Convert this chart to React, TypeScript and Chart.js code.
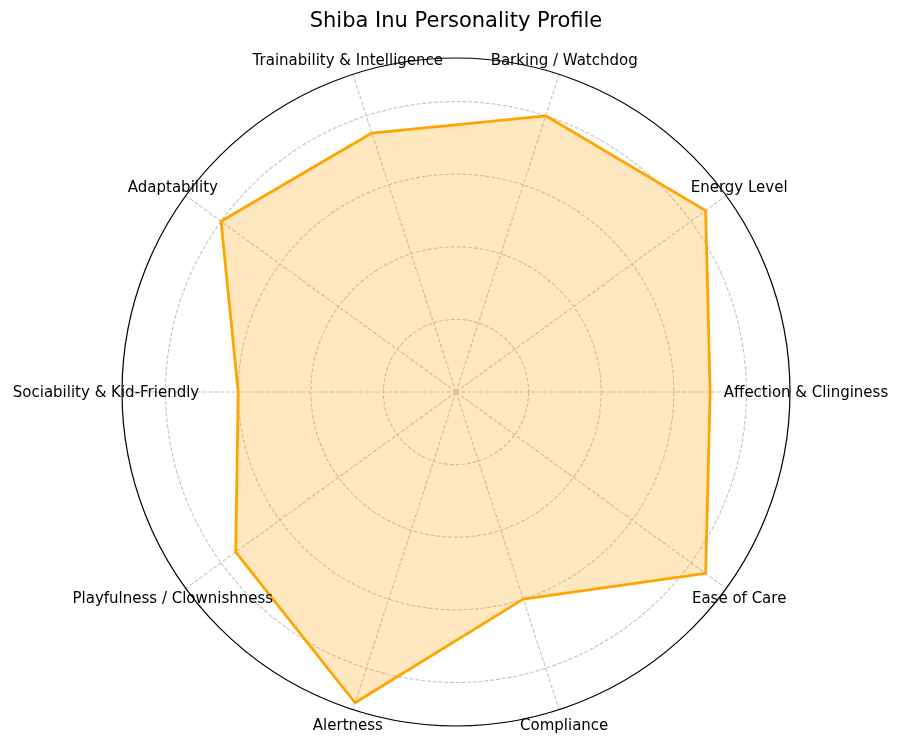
import React, { useEffect, useRef } from 'react';
import { Chart, registerables } from 'chart.js';

Chart.register(...registerables);

const TITLE = 'Shiba Inu Personality Profile';
// Categories in counter-clockwise order starting at 3 o'clock
const categories = [
  'Affection & Clinginess',
  'Energy Level',
  'Barking / Watchdog',
  'Trainability & Intelligence',
  'Adaptability',
  'Sociability & Kid-Friendly',
  'Playfulness / Clownishness',
  'Alertness',
  'Compliance',
  'Ease of Care',
];
const scores = [3.5, 4.25, 4.0, 3.75, 4.0, 3.0, 3.75, 4.5, 3.0, 4.25];
const rMin = 0;
const rMax = 4.6;
const rStep = 1;

// Chart.js goes clockwise, so keep the first item and reverse the rest
const order = [0, ...categories.map((_, i) => i).slice(1).reverse()];
const chartLabels = order.map((i) => categories[i]);
const chartValues = order.map((i) => scores[i]);

const FONT = '"DejaVu Sans", "Liberation Sans", sans-serif';

const overlayPlugin = {
  id: 'overlayPlugin',
  afterDraw(chart: any) {
    const s = chart.scales.r;
    const ctx = chart.ctx;
    ctx.save();
    ctx.font = `15px ${FONT}`;
    ctx.fillStyle = '#000000';
    ctx.textAlign = 'center';
    ctx.textBaseline = 'middle';
    chartLabels.forEach((lab, i) => {
      const p = s.getPointPosition(i, s.drawingArea + 16);
      ctx.fillText(lab, p.x, p.y + 1.5);
    });
    ctx.beginPath();
    ctx.arc(s.xCenter, s.yCenter, s.drawingArea, 0, Math.PI * 2);
    ctx.strokeStyle = '#000000';
    ctx.lineWidth = 1.2;
    ctx.stroke();
    ctx.restore();
  },
};

export default function App() {
  const ref = useRef<HTMLCanvasElement | null>(null);

  useEffect(() => {
    document.body.style.margin = '0';
    const canvas = ref.current;
    if (!canvas) return;
    const chart = new Chart(canvas, {
      type: 'radar',
      data: {
        labels: chartLabels,
        datasets: [
          {
            label: 'Shiba Inu',
            data: chartValues,
            backgroundColor: 'rgba(255,165,0,0.25)',
            borderColor: '#FFA500',
            borderWidth: 2.8,
            borderJoinStyle: 'round',
            pointRadius: 0,
            pointHoverRadius: 0,
            fill: true,
          },
        ],
      },
      options: {
        responsive: false,
        animation: false,
        devicePixelRatio: 1,
        layout: { padding: { left: 121, right: 109, top: 0, bottom: 18 } },
        plugins: {
          legend: { display: false },
          tooltip: { enabled: false },
          title: {
            display: true,
            text: TITLE,
            color: '#000000',
            font: { family: FONT, size: 21, weight: 'normal' },
            padding: { top: 9, bottom: 23 },
          },
        },
        scales: {
          r: {
            min: rMin,
            max: rMax,
            startAngle: 90,
            ticks: { display: false, stepSize: rStep },
            pointLabels: { display: false },
            grid: {
              circular: true,
              color: (c: any) => (c.tick && c.tick.value > 4.5 ? 'rgba(0,0,0,0)' : '#c4c4c4'),
              lineWidth: 1.1,
            },
            border: { dash: [4, 1.8] },
            angleLines: {
              display: true,
              color: '#c4c4c4',
              lineWidth: 1.1,
              borderDash: [4, 1.8],
            },
          },
        },
      },
      plugins: [overlayPlugin],
    });
    return () => chart.destroy();
  }, []);

  return (
    <div style={{ position: 'absolute', left: 0, top: 0, width: 900, height: 745, background: '#ffffff' }}>
      <canvas ref={ref} width={900} height={745} style={{ width: 900, height: 745 }} />
    </div>
  );
}
